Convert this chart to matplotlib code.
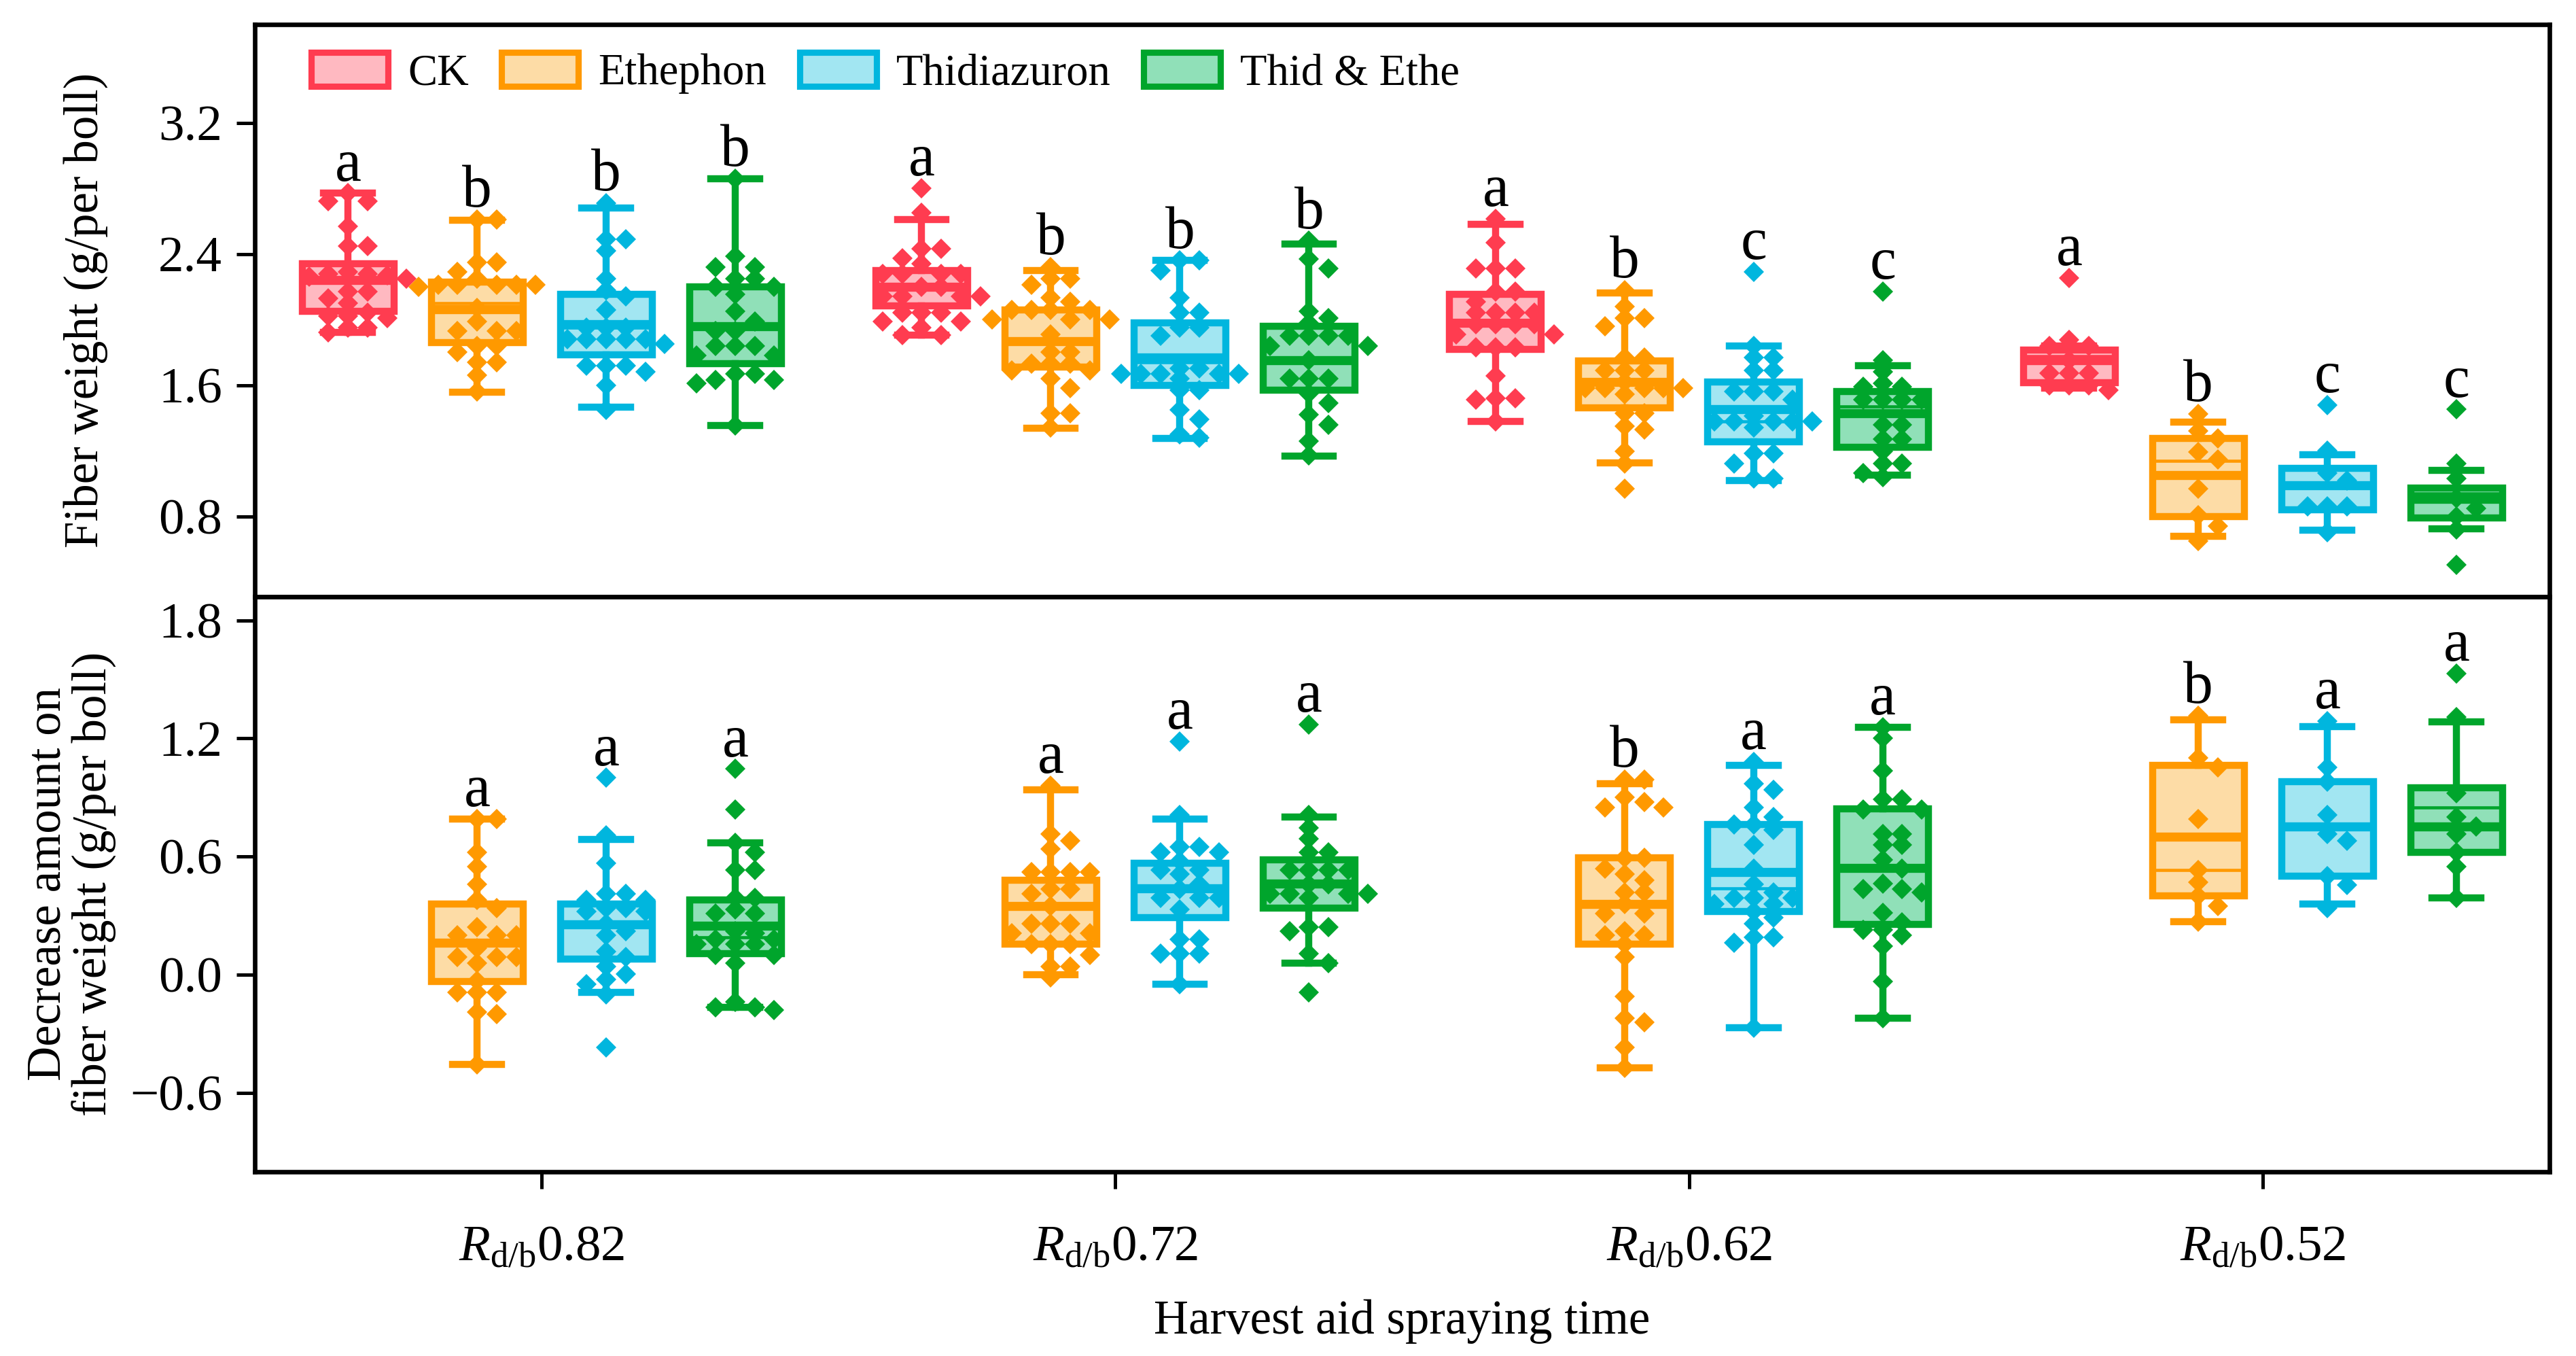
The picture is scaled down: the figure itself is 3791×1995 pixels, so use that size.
import numpy as np
import matplotlib
matplotlib.use("Agg")
import matplotlib.pyplot as plt
from matplotlib.patches import Patch

plt.rcParams['font.family'] = ['Liberation Serif', 'DejaVu Serif']
plt.rcParams['mathtext.fontset'] = 'custom'
plt.rcParams['mathtext.rm'] = 'Liberation Serif'
plt.rcParams['mathtext.it'] = 'Liberation Serif:italic'

# ---------------- data ----------------
groups = ['0.82', '0.72', '0.62', '0.52']
treatments = ['CK', 'Ethephon', 'Thidiazuron', 'Thid & Ethe']
edge_colors = ['#FF3C50', '#FF9900', '#00B6DE', '#00A52C']
fill_colors = ['#FFB9C1', '#FDDCA6', '#A2E6F2', '#90E0B8']

# box statistics per group: [whisker low, q1, median, q3, whisker high, mean]
fw_box_ck = [[1.92, 2.05, 2.24, 2.34, 2.77, 2.24],
             [1.905, 2.084, 2.20, 2.30, 2.61, 2.20],
             [1.378, 1.82, 1.98, 2.154, 2.58, 1.98],
             [1.58, 1.615, 1.75, 1.812, 1.84, 1.775]]
fw_box_eth = [[1.558, 1.858, 2.061, 2.228, 2.606, 2.098],
              [1.338, 1.71, 1.868, 2.06, 2.30, 1.868],
              [1.124, 1.462, 1.62, 1.748, 2.163, 1.62],
              [0.68, 0.797, 1.052, 1.277, 1.373, 1.14]]
fw_box_thid = [[1.467, 1.785, 1.97, 2.154, 2.68, 1.95],
               [1.277, 1.60, 1.77, 1.978, 2.36, 1.74],
               [1.019, 1.253, 1.452, 1.62, 1.84, 1.38],
               [0.714, 0.838, 0.99, 1.092, 1.175, 0.99]]
fw_box_te = [[1.355, 1.73, 1.96, 2.20, 2.859, 1.96],
             [1.166, 1.57, 1.75, 1.96, 2.46, 1.75],
             [1.05, 1.22, 1.43, 1.56, 1.72, 1.47],
             [0.723, 0.788, 0.908, 0.972, 1.08, 0.94]]

# individual fiber weight values (g/per boll)
fw_pts_ck = [
    [2.77, 2.72, 2.72, 2.57, 2.45, 2.45, 2.29, 2.28, 2.28, 2.27, 2.26, 2.25, 2.17, 2.17, 2.13, 2.10, 2.04, 2.02, 2.02, 2.01, 1.95, 1.95, 1.92],
    [2.80, 2.65, 2.43, 2.43, 2.375, 2.34, 2.28, 2.28, 2.28, 2.28, 2.20, 2.20, 2.14, 2.14, 2.14, 2.14, 2.04, 2.04, 2.04, 1.99, 1.99, 1.95, 1.905, 1.905],
    [2.615, 2.47, 2.31, 2.31, 2.31, 2.17, 2.17, 2.11, 2.04, 2.04, 2.04, 2.04, 1.97, 1.97, 1.97, 1.97, 1.91, 1.91, 1.83, 1.83, 1.83, 1.655, 1.52, 1.52, 1.51, 1.38],
    [2.255, 1.877, 1.84, 1.84, 1.75, 1.674, 1.674, 1.674, 1.60, 1.60, 1.60, 1.57]]
fw_pts_eth = [
    [2.61, 2.61, 2.35, 2.35, 2.29, 2.25, 2.21, 2.21, 2.21, 2.21, 2.21, 2.20, 2.07, 1.99, 1.93, 1.93, 1.93, 1.84, 1.84, 1.80, 1.74, 1.74, 1.66, 1.56],
    [2.32, 2.25, 2.25, 2.21, 2.135, 2.11, 2.06, 2.06, 2.06, 2.06, 2.00, 2.00, 2.00, 1.91, 1.80, 1.80, 1.73, 1.73, 1.73, 1.69, 1.69, 1.64, 1.58, 1.43, 1.43, 1.34],
    [2.18, 2.08, 2.01, 2.01, 1.96, 1.77, 1.77, 1.69, 1.69, 1.69, 1.62, 1.58, 1.58, 1.58, 1.58, 1.58, 1.545, 1.43, 1.43, 1.35, 1.33, 1.195, 1.12, 0.97],
    [1.424, 1.32, 1.277, 1.194, 1.148, 0.97, 0.806, 0.742, 0.65]]
fw_pts_thid = [
    [2.71, 2.49, 2.49, 2.42, 2.25, 2.18, 2.14, 2.06, 1.95, 1.95, 1.95, 1.88, 1.88, 1.88, 1.88, 1.88, 1.85, 1.72, 1.72, 1.72, 1.68, 1.60, 1.45],
    [2.36, 2.36, 2.30, 2.135, 2.04, 2.04, 1.95, 1.95, 1.90, 1.70, 1.70, 1.67, 1.67, 1.67, 1.67, 1.67, 1.64, 1.57, 1.57, 1.45, 1.39, 1.30, 1.28],
    [2.29, 1.84, 1.77, 1.77, 1.69, 1.69, 1.56, 1.56, 1.56, 1.51, 1.41, 1.38, 1.38, 1.38, 1.38, 1.38, 1.34, 1.185, 1.185, 1.12, 1.03, 1.03],
    [1.48, 1.20, 1.065, 1.02, 0.86, 0.86, 0.86, 0.705]]
fw_pts_te = [
    [2.86, 2.385, 2.32, 2.32, 2.25, 2.25, 2.20, 2.20, 2.155, 2.05, 1.99, 1.93, 1.93, 1.84, 1.84, 1.84, 1.78, 1.78, 1.67, 1.67, 1.63, 1.63, 1.61, 1.355],
    [2.48, 2.37, 2.31, 2.05, 2.01, 1.98, 1.90, 1.90, 1.90, 1.90, 1.84, 1.84, 1.75, 1.64, 1.64, 1.64, 1.55, 1.49, 1.42, 1.36, 1.26, 1.17],
    [2.17, 1.75, 1.68, 1.61, 1.59, 1.59, 1.51, 1.51, 1.51, 1.51, 1.36, 1.36, 1.27, 1.27, 1.195, 1.12, 1.12, 1.065, 1.04],
    [1.452, 1.12, 1.03, 0.91, 0.85, 0.80, 0.72, 0.502]]

fw_letters = [['a', 'b', 'b', 'b'],
              ['a', 'b', 'b', 'b'],
              ['a', 'b', 'c', 'c'],
              ['a', 'b', 'c', 'c']]

# decrease amount (no CK)
dec_box_eth = [[-0.456, -0.034, 0.163, 0.36, 0.791, 0.163],
               [0.0, 0.154, 0.35, 0.48, 0.94, 0.35],
               [-0.474, 0.154, 0.36, 0.594, 0.97, 0.36],
               [0.27, 0.40, 0.70, 1.063, 1.294, 0.53]]
dec_box_thid = [[-0.09, 0.079, 0.257, 0.36, 0.688, 0.257],
                [-0.05, 0.29, 0.44, 0.566, 0.79, 0.44],
                [-0.27, 0.32, 0.52, 0.763, 1.063, 0.44],
                [0.36, 0.50, 0.754, 0.98, 1.26, 0.754]]
dec_box_te = [[-0.165, 0.107, 0.25, 0.38, 0.67, 0.19],
              [0.06, 0.34, 0.463, 0.585, 0.80, 0.463],
              [-0.221, 0.257, 0.542, 0.844, 1.256, 0.542],
              [0.39, 0.62, 0.754, 0.95, 1.284, 0.848]]

dec_pts_eth = [
    [0.79, 0.79, 0.62, 0.55, 0.46, 0.38, 0.34, 0.24, 0.20, 0.20, 0.20, 0.135, 0.09, 0.09, 0.09, 0.06, -0.03, -0.09, -0.09, -0.09, -0.19, -0.20, -0.456],
    [0.96, 0.716, 0.68, 0.64, 0.52, 0.52, 0.52, 0.52, 0.435, 0.435, 0.41, 0.35, 0.26, 0.26, 0.26, 0.21, 0.21, 0.154, 0.154, 0.154, 0.10, 0.04, 0.04, -0.015],
    [0.99, 0.99, 0.90, 0.876, 0.85, 0.85, 0.594, 0.594, 0.54, 0.51, 0.48, 0.416, 0.416, 0.36, 0.31, 0.31, 0.22, 0.20, 0.20, 0.154, 0.09, -0.11, -0.22, -0.24, -0.37, -0.474],
    [1.316, 1.10, 1.054, 0.79, 0.53, 0.47, 0.40, 0.35, 0.27]]
dec_pts_thid = [
    [1.0, 0.707, 0.566, 0.41, 0.41, 0.38, 0.38, 0.34, 0.34, 0.32, 0.32, 0.26, 0.22, 0.20, 0.116, 0.09, 0.04, 0.004, -0.024, -0.05, -0.10, -0.37],
    [1.185, 0.81, 0.65, 0.65, 0.62, 0.62, 0.576, 0.53, 0.53, 0.51, 0.46, 0.435, 0.39, 0.39, 0.39, 0.33, 0.18, 0.18, 0.107, 0.107, 0.107, -0.05],
    [1.08, 0.97, 0.94, 0.85, 0.80, 0.763, 0.763, 0.735, 0.66, 0.54, 0.46, 0.416, 0.39, 0.39, 0.39, 0.36, 0.36, 0.32, 0.29, 0.26, 0.19, 0.19, 0.163, -0.27],
    [1.288, 1.054, 0.98, 0.81, 0.716, 0.68, 0.50, 0.454, 0.34]]
dec_pts_te = [
    [1.045, 0.84, 0.67, 0.62, 0.53, 0.53, 0.39, 0.39, 0.33, 0.31, 0.31, 0.22, 0.21, 0.18, 0.18, 0.154, 0.154, 0.154, 0.10, 0.10, 0.06, -0.137, -0.165, -0.165, -0.18],
    [1.27, 0.81, 0.745, 0.69, 0.62, 0.62, 0.53, 0.53, 0.53, 0.53, 0.46, 0.46, 0.41, 0.41, 0.41, 0.41, 0.39, 0.24, 0.24, 0.22, 0.107, 0.06, -0.09],
    [1.256, 1.20, 1.035, 0.89, 0.89, 0.84, 0.84, 0.716, 0.716, 0.66, 0.66, 0.585, 0.54, 0.463, 0.435, 0.435, 0.416, 0.313, 0.266, 0.229, 0.229, 0.20, 0.144, -0.034, -0.22],
    [1.53, 1.307, 0.92, 0.80, 0.754, 0.716, 0.62, 0.55, 0.39]]

dec_letters = [[None, 'a', 'a', 'a'],
               [None, 'a', 'a', 'a'],
               [None, 'b', 'a', 'a'],
               [None, 'b', 'a', 'a']]

fw_pts = [fw_pts_ck, fw_pts_eth, fw_pts_thid, fw_pts_te]
fw_box = [fw_box_ck, fw_box_eth, fw_box_thid, fw_box_te]
dec_pts = [None, dec_pts_eth, dec_pts_thid, dec_pts_te]
dec_box = [None, dec_box_eth, dec_box_thid, dec_box_te]

# ---------------- layout ----------------
offsets = [-0.3375, -0.1125, 0.1125, 0.3375]
box_w = 0.16
cap_w = 0.085
step_x = 0.034
max_col = 3


def swarm(vals, dy):
    placed = []
    offs = []
    cands = [0]
    for i in range(1, max_col + 1):
        cands += [i, -i]
    for v in vals:
        best, best_n = 0, None
        chosen = None
        for c in cands:
            n = sum(1 for pc, pv in placed if pc == c and abs(v - pv) < dy)
            if n == 0:
                chosen = c
                break
            if best_n is None or n < best_n:
                best, best_n = c, n
        if chosen is None:
            chosen = best
        placed.append((chosen, v))
        offs.append(chosen * step_x)
    return np.array(offs)


fig = plt.figure(figsize=(3791 / 300, 1995 / 300), dpi=300)
ax1 = fig.add_axes([0.0989, 0.56, 0.8909, 0.422])
ax2 = fig.add_axes([0.0989, 0.136, 0.8909, 0.424], sharex=ax1)


def draw_panel(ax, pts_all, box_all, letters, dy):
    for ti in range(4):
        if pts_all[ti] is None:
            continue
        ec, fc = edge_colors[ti], fill_colors[ti]
        pos = np.arange(len(groups)) + offsets[ti]
        stats = [dict(whislo=b[0], q1=b[1], med=b[2], q3=b[3], whishi=b[4],
                      mean=b[5], fliers=[]) for b in box_all[ti]]
        ax.bxp(stats, positions=pos, widths=box_w, capwidths=cap_w,
               patch_artist=True, showmeans=True, meanline=True,
               showfliers=False, manage_ticks=False,
               boxprops=dict(facecolor=fc, edgecolor=ec, linewidth=2.5),
               whiskerprops=dict(color=ec, linewidth=2.5),
               capprops=dict(color=ec, linewidth=2.5),
               medianprops=dict(color=ec, linewidth=3.2),
               meanprops=dict(color=ec, linewidth=1.1, linestyle='-'),
               zorder=2)
        for gi in range(len(groups)):
            vals = np.array(pts_all[ti][gi])
            xo = swarm(vals, dy)
            ax.plot(pos[gi] + xo, vals, 'D', ms=5.0, color=ec, mec='none',
                    zorder=3)
            top = max(vals.max(), box_all[ti][gi][4])
            lt = letters[gi][ti]
            if lt:
                ax.annotate(lt, xy=(pos[gi], top), xytext=(0, 4.5),
                            textcoords='offset points', ha='center',
                            va='baseline', fontsize=21)


draw_panel(ax1, fw_pts, fw_box, fw_letters, 0.065)
draw_panel(ax2, dec_pts, dec_box, dec_letters, 0.055)

ax1.set_xlim(-0.5, 3.5)
ax1.set_ylim(0.31, 3.8)
ax2.set_ylim(-1.0, 1.92)

ax1.set_yticks([0.8, 1.6, 2.4, 3.2], ['0.8', '1.6', '2.4', '3.2'])
ax2.set_yticks([-0.6, 0.0, 0.6, 1.2, 1.8],
               ['\u22120.6', '0.0', '0.6', '1.2', '1.8'])
ax2.set_xticks(np.arange(len(groups)),
               [r'$\mathit{R}_{\mathrm{d/b}}$' + g for g in groups])

for ax in (ax1, ax2):
    for s in ax.spines.values():
        s.set_linewidth(1.6)
    ax.tick_params(axis='y', direction='out', length=6.5, width=1.2,
                   pad=5, labelsize=18)
ax1.tick_params(axis='x', bottom=False, labelbottom=False)
ax2.tick_params(axis='x', direction='out', length=6, width=1.2, pad=13,
                labelsize=18)

ax1.set_ylabel('Fiber weight (g/per boll)', fontsize=17)
ax1.yaxis.set_label_coords(-0.064, 0.5)
ax2.set_ylabel('Decrease amount on\nfiber weight (g/per boll)', fontsize=17,
               linespacing=1.05)
ax2.yaxis.set_label_coords(-0.060, 0.5)
ax2.set_xlabel('Harvest aid spraying time', fontsize=17)
ax2.xaxis.set_label_coords(0.5, -0.222)

handles = [Patch(facecolor=fill_colors[i], edgecolor=edge_colors[i],
                 linewidth=2.2) for i in range(4)]
ax1.legend(handles, treatments, loc='upper left',
           bbox_to_anchor=(0.017, 0.982), ncol=4, frameon=False,
           handlelength=1.75, handleheight=0.82, handletextpad=0.45,
           columnspacing=0.75, fontsize=15.5, borderaxespad=0)

fig.savefig('out.png', dpi=300)
